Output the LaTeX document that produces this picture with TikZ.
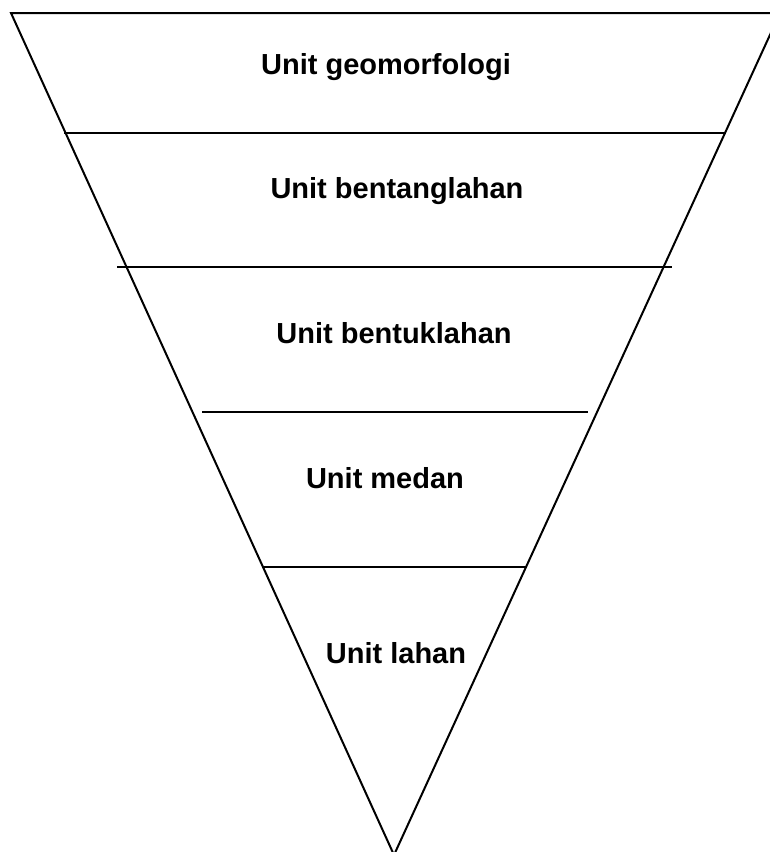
\documentclass[tikz,border=0pt]{standalone}
\usepackage{fontspec}
\setmainfont{Liberation Sans}
\usetikzlibrary{positioning}

\begin{document}
\begin{tikzpicture}[x=1pt,y=-1pt,line width=2pt,every node/.style={font=\bfseries\fontsize{29}{34}\selectfont}]
        \useasboundingbox (0,0) rectangle (770,852);
        \coordinate (tl) at (11,13);
        \coordinate (tr) at (780,13);
        \coordinate (ap) at (394,855);
        \draw (ap) -- (tl) -- (tr) -- cycle;
        \draw (64,133) -- (725,133);
        \draw (117,267) -- (672,267);
        \draw (202,412) -- (588,412);
        \draw (263,567) -- (526,567);
        \node (l1) at (386,67) {Unit geomorfologi};
        \node (l2) at (397,191) {Unit bentanglahan};
        \node (l3) at (394,333) {Unit bentuklahan};
        \node (l4) at (385,478) {Unit medan};
        \node (l5) at (396,653) {Unit lahan};
    \end{tikzpicture}
\end{document}
